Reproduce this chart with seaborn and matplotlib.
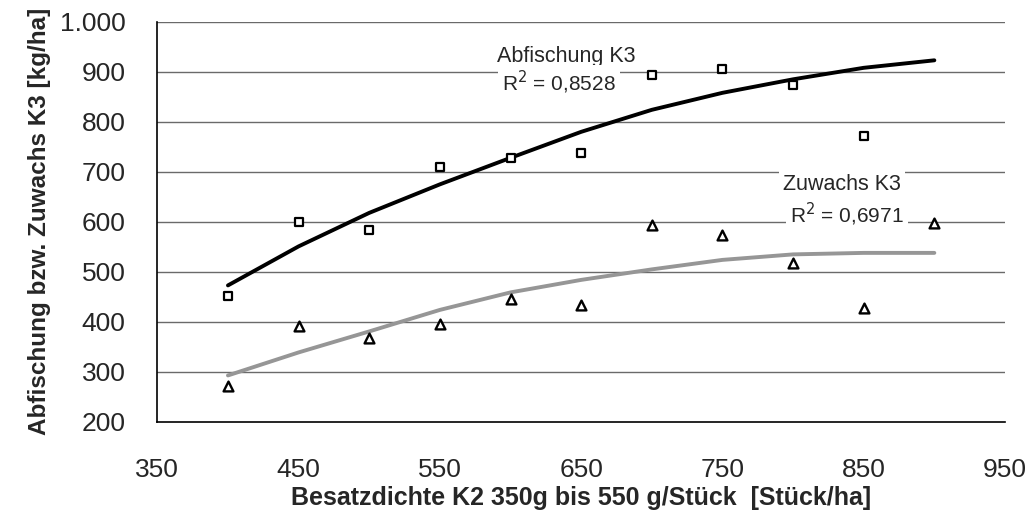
import matplotlib
matplotlib.use("Agg")
import matplotlib.pyplot as plt
import seaborn as sns
import pandas as pd

# --- data ---
x_abf = [400, 450, 500, 550, 600, 650, 700, 750, 800, 850]
y_abf = [451, 600, 583, 709, 728, 737, 893, 906, 873, 772]

x_zuw = [400, 450, 500, 550, 600, 650, 700, 750, 800, 850, 900]
y_zuw = [271, 392, 368, 395, 445, 433, 593, 573, 518, 428, 598]

# trend lines
trend_x = [400, 450, 500, 550, 600, 650, 700, 750, 800, 850, 900]
trend_abf = [473, 551, 618, 675, 728, 780, 824, 858, 885, 908, 923]
trend_zuw = [293, 339, 381, 424, 459, 484, 505, 524, 535, 538, 538]

x_ticks = [350, 450, 550, 650, 750, 850, 950]
y_ticks = [200, 300, 400, 500, 600, 700, 800, 900, 1000]
y_ticklabels = ["200", "300", "400", "500", "600", "700", "800", "900", "1.000"]

sns.set_theme(style="white")
plt.rcParams["font.family"] = ["Liberation Sans", "DejaVu Sans"]

fig = plt.figure(figsize=(10.35, 5.19), dpi=100)
ax = fig.add_axes([0.152, 0.187, 0.819, 0.771])

df_abf = pd.DataFrame({"x": x_abf, "y": y_abf})
df_zuw = pd.DataFrame({"x": x_zuw, "y": y_zuw})
df_ta = pd.DataFrame({"x": trend_x, "y": trend_abf})
df_tz = pd.DataFrame({"x": trend_x, "y": trend_zuw})

for yv in y_ticks[1:]:
    ax.axhline(yv, color="#6a6a6a", lw=1.0, zorder=0)

sns.lineplot(data=df_ta, x="x", y="y", ax=ax, color="black", lw=2.8, zorder=3)
sns.lineplot(data=df_tz, x="x", y="y", ax=ax, color="#969696", lw=2.8, zorder=3)

sns.scatterplot(data=df_abf, x="x", y="y", ax=ax, marker="s", s=28,
                facecolor="white", edgecolor="black", linewidth=1.6, zorder=4)
sns.scatterplot(data=df_zuw, x="x", y="y", ax=ax, marker="^", s=50,
                facecolor="white", edgecolor="black", linewidth=1.7, zorder=4)

ax.set_xlim(350, 950)
ax.set_ylim(200, 1000)
ax.set_xticks(x_ticks)
ax.set_xticklabels([str(v) for v in x_ticks], fontsize=19)
ax.set_yticks(y_ticks)
ax.set_yticklabels(y_ticklabels, fontsize=19)

ax.tick_params(axis="x", direction="out", length=7, width=1, color="black", pad=19)
ax.tick_params(axis="y", direction="out", length=8, width=1, color="black", pad=15)

for s in ["top", "right"]:
    ax.spines[s].set_visible(False)
for s in ["left", "bottom"]:
    ax.spines[s].set_color("black")
    ax.spines[s].set_linewidth(1.2)

ax.set_xlabel("Besatzdichte K2 350g bis 550 g/Stück  [Stück/ha]", fontsize=18,
              fontweight="bold", labelpad=3)
ax.set_ylabel("Abfischung bzw. Zuwachs K3 [kg/ha]", fontsize=17.5,
              fontweight="bold", labelpad=6)

bbox = dict(facecolor="white", edgecolor="none", pad=3)

# annotation positions converted from reference pixels to data coords
def px2x(px):
    return 350 + (px - 157.3) / 1.413

def px2y(py):
    return 200 + (422.3 - py) * 2.0

ax.text(px2x(497), px2y(57), "Abfischung K3", fontsize=15.5, ha="left", va="center",
        bbox=bbox, zorder=5)
ax.text(px2x(502), px2y(83), "R$^2$ = 0,8528", fontsize=15, ha="left", va="center",
        bbox=bbox, zorder=5)
ax.text(px2x(783), px2y(185), "Zuwachs K3", fontsize=15.5, ha="left", va="center",
        bbox=bbox, zorder=5)
ax.text(px2x(790), px2y(215), "R$^2$ = 0,6971", fontsize=15, ha="left", va="center",
        bbox=bbox, zorder=5)

fig.savefig("out.png", dpi=100)
